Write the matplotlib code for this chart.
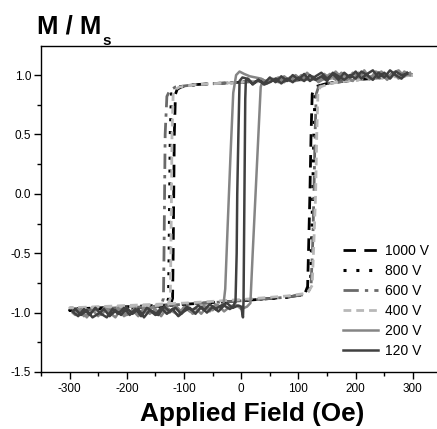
import matplotlib
matplotlib.use("Agg")
import matplotlib.pyplot as plt
from matplotlib.ticker import MultipleLocator

plt.rcParams['font.family'] = ['Liberation Sans', 'DejaVu Sans']
plt.rcParams['axes.unicode_minus'] = False

# ---------------- data ----------------
labels = ["1000 V", "800 V", "600 V", "400 V", "200 V", "120 V"]

# 1000 V
h1000_desc = [300, 200, 100, 0, -80, -105, -112, -115, -117, -118, -119, -120, -124, -150, -200, -300]
m1000_desc = [1.00, 0.98, 0.96, 0.94, 0.92, 0.90, 0.88, 0.84, 0.50, 0.00, -0.50, -0.88, -0.94, -0.95, -0.96, -0.97]
h1000_asc = [-300, -200, -100, 0, 80, 105, 112, 116, 118, 120, 122, 124, 128, 150, 200, 300]
m1000_asc = [-0.97, -0.95, -0.93, -0.90, -0.87, -0.85, -0.83, -0.78, -0.40, 0.00, 0.50, 0.84, 0.90, 0.93, 0.96, 1.00]

# 800 V
h800_desc = [300, 200, 100, 0, -80, -110, -118, -122, -124, -125, -126, -127, -131, -150, -200, -300]
m800_desc = [1.00, 0.98, 0.96, 0.94, 0.92, 0.90, 0.88, 0.84, 0.50, 0.00, -0.50, -0.88, -0.94, -0.96, -0.97, -0.98]
h800_asc = [-300, -200, -100, 0, 80, 108, 116, 121, 123, 125, 127, 129, 133, 150, 200, 300]
m800_asc = [-0.98, -0.96, -0.93, -0.90, -0.87, -0.85, -0.83, -0.78, -0.40, 0.00, 0.50, 0.84, 0.90, 0.93, 0.96, 1.00]

# 600 V
h600_desc = [300, 200, 100, 0, -80, -115, -125, -130, -133, -134, -135, -136, -140, -160, -200, -300]
m600_desc = [1.00, 0.98, 0.96, 0.94, 0.92, 0.90, 0.87, 0.82, 0.50, 0.00, -0.50, -0.88, -0.94, -0.96, -0.97, -0.98]
h600_asc = [-300, -200, -100, 0, 80, 108, 116, 122, 125, 127, 129, 131, 135, 150, 200, 300]
m600_asc = [-0.98, -0.96, -0.93, -0.90, -0.87, -0.85, -0.83, -0.78, -0.40, 0.00, 0.50, 0.84, 0.90, 0.93, 0.96, 1.00]

# 400 V
h400_desc = [300, 200, 100, 0, -80, -108, -115, -119, -121, -122, -123, -124, -128, -150, -200, -300]
m400_desc = [1.00, 0.98, 0.96, 0.94, 0.92, 0.90, 0.88, 0.84, 0.50, 0.00, -0.50, -0.88, -0.93, -0.94, -0.95, -0.96]
h400_asc = [-300, -200, -100, 0, 80, 110, 118, 124, 127, 130, 132, 134, 138, 155, 200, 300]
m400_asc = [-0.96, -0.94, -0.92, -0.89, -0.86, -0.84, -0.82, -0.77, -0.40, 0.00, 0.50, 0.84, 0.90, 0.93, 0.96, 1.00]

# 200 V
h200_desc = [295, 285, 275, 265, 255, 245, 235, 225, 215, 205, 195, 185, 175, 165, 155, 145, 135, 125,
             115, 105, 95, 85, 75, 65, 55, 45, 35, 25, 15, 5, -3, -9, -14, -19, -24, -28, -31,
             -35, -45, -55, -65, -75, -85, -95, -105, -115, -125, -135, -145, -155, -165, -175,
             -185, -195, -205, -215, -225, -235, -245, -255, -265, -275, -285, -295]
m200_desc = [1.00, 1.03, 0.97, 1.02, 0.96, 1.01, 1.03, 0.97, 0.99, 1.02, 0.95, 0.99, 1.02, 0.96, 1.01, 0.97,
             0.94, 0.99, 0.96, 1.00, 0.95, 0.98, 0.94, 0.98, 0.96, 0.94, 0.97, 0.98, 0.99, 1.01, 1.03, 1.00,
             0.85, 0.30, -0.30, -0.80, -0.93,
             -0.96, -0.93, -0.99, -0.94, -0.98, -1.01, -0.95, -0.99, -0.94, -1.00, -0.96, -1.02, -0.95,
             -0.99, -1.01, -0.96, -1.00, -1.03, -0.96, -1.01, -0.97, -1.02, -0.96, -1.01, -1.03, -0.97, -1.00]
h200_asc = [-290, -280, -270, -260, -250, -240, -230, -220, -210, -200, -190, -180, -170, -160, -150, -140,
            -130, -120, -110, -100, -90, -80, -70, -60, -50, -40, -30, -20, -10, 0, 10,
            16, 20, 25, 30, 34, 38,
            45, 55, 65, 75, 85, 95, 105, 115, 125, 135, 145, 155, 165, 175, 185, 195, 205, 215, 225,
            235, 245, 255, 265, 275, 285, 295]
m200_asc = [-1.02, -0.97, -1.04, -0.98, -1.03, -0.96, -1.00, -1.04, -0.97, -1.02, -0.98, -1.03, -0.96, -1.01,
            -0.97, -1.03, -0.96, -0.99, -1.02, -0.95, -0.99, -0.96, -1.01, -0.95, -0.98, -0.94, -0.99, -0.95,
            -0.93, -0.97, -0.95,
            -0.92, -0.50, 0.00, 0.50, 0.90, 0.96,
            0.93, 0.97, 0.94, 0.99, 0.95, 1.00, 0.96, 1.02, 0.97, 0.95, 1.01, 0.97, 1.03, 0.98, 0.96, 1.02,
            0.98, 1.04, 0.97, 1.00, 1.03, 0.98, 1.02, 1.04, 0.99, 1.02]

# 120 V
h120_desc = [290, 280, 270, 260, 250, 240, 230, 220, 210, 200, 190, 180, 170, 160, 150, 140, 130, 120,
             110, 100, 90, 80, 70, 60, 50, 40, 30, 20, 10,
             2, -3, -5, -7, -8, -10, -14,
             -20, -30, -40, -50, -60, -70, -80, -90, -100, -110, -120, -130, -140, -150, -160, -170,
             -180, -190, -200, -210, -220, -230, -240, -250, -260, -270, -280, -290]
m120_desc = [1.02, 0.97, 1.00, 1.04, 0.98, 1.02, 0.96, 1.00, 1.03, 0.97, 1.00, 0.96, 0.99, 1.02, 0.95, 0.99,
             0.96, 1.00, 0.95, 0.98, 0.94, 0.97, 0.93, 0.97, 0.94, 0.92, 0.96, 0.93, 0.97,
             0.98, 0.95, 0.50, 0.00, -0.50, -0.90, -0.95,
             -0.97, -0.94, -0.99, -0.95, -1.00, -0.95, -1.01, -0.96, -0.99, -1.03, -0.97, -1.01, -0.96,
             -1.02, -0.98, -1.04, -0.97, -1.01, -0.96, -1.02, -0.98, -1.03, -0.97, -1.01, -1.04, -0.98,
             -1.02, -0.97]
h120_asc = [-295, -285, -275, -265, -255, -245, -235, -225, -215, -205, -195, -185, -175, -165, -155, -145,
            -135, -125, -115, -105, -95, -85, -75, -65, -55, -45, -35, -25, -15, -5,
            0, 3, 4, 5, 6, 7, 8, 12,
            20, 30, 40, 50, 60, 70, 80, 90, 100, 110, 120, 130, 140, 150, 160, 170, 180, 190, 200, 210,
            220, 230, 240, 250, 260, 270, 280, 290]
m120_asc = [-0.99, -1.03, -0.97, -1.02, -0.96, -1.01, -1.04, -0.97, -1.01, -0.96, -1.02, -0.97, -1.03, -0.96,
            -0.99, -1.02, -0.95, -0.99, -0.96, -1.01, -0.95, -0.98, -0.94, -0.98, -0.93, -0.97, -0.94, -0.92,
            -0.96, -0.94,
            -0.95, -1.04, -0.90, -0.30, 0.30, 0.80, 0.95, 0.97,
            0.92, 0.96, 0.93, 0.98, 0.94, 0.99, 0.95, 1.00, 0.96, 1.01, 0.95, 0.99, 1.02, 0.97, 1.01, 0.96,
            1.02, 0.98, 1.03, 0.97, 1.01, 1.04, 0.98, 1.02, 0.97, 1.03, 1.00, 1.01]

x_ticks = [-300, -200, -100, 0, 100, 200, 300]
y_ticks = [-1.5, -1.0, -0.5, 0.0, 0.5, 1.0]

# ---------------- figure ----------------
W, H = 437, 429
fig = plt.figure(figsize=(W / 100, H / 100), dpi=100)
ax = fig.add_axes([41 / W, (H - 372) / H, (441.5 - 41) / W, (372 - 46) / H])

series = [
    (h1000_desc + h1000_asc, m1000_desc + m1000_asc, dict(color='black', lw=2.0, ls=(0, (4.5, 3)))),
    (h800_desc + h800_asc, m800_desc + m800_asc, dict(color='black', lw=2.2, ls=(0, (1, 3.2)))),
    (h600_desc + h600_asc, m600_desc + m600_asc, dict(color='#6a6a6a', lw=2.0, ls=(0, (5.5, 2.2, 1.2, 2.2)))),
    (h400_desc + h400_asc, m400_desc + m400_asc, dict(color='#b8b8b8', lw=2.0, ls=(0, (2.8, 1.8)))),
    (h200_desc + h200_asc, m200_desc + m200_asc, dict(color='#858585', lw=1.8, ls='-')),
    (h120_desc + h120_asc, m120_desc + m120_asc, dict(color='#404040', lw=1.8, ls='-')),
]
for (hx, my, st), lab in zip(series, labels):
    ax.plot(hx, my, label=lab, **st)

ax.set_xlim(-350, 350)
ax.set_ylim(-1.5, 1.245)
ax.set_xticks(x_ticks)
ax.set_yticks(y_ticks)
ax.set_yticklabels([f"{v:.1f}" for v in y_ticks])
ax.xaxis.set_minor_locator(MultipleLocator(50))
ax.yaxis.set_minor_locator(MultipleLocator(0.25))
ax.tick_params(which='major', direction='out', length=5, width=1, labelsize=8.5, pad=3, colors='black')
ax.tick_params(which='minor', direction='out', length=3, width=1)
ax.tick_params(axis='y', pad=2)
ax.spines['right'].set_visible(False)
for s in ['left', 'bottom', 'top']:
    ax.spines[s].set_linewidth(1.0)

fig.text(37 / W, 1 - 33 / H, "M / M", fontsize=18.5, fontweight='bold', va='baseline', ha='left')
fig.text(102 / W, 1 - 45 / H, "s", fontsize=11, fontweight='bold', va='baseline', ha='left')
fig.text(252 / W, 1 - 421 / H, "Applied Field (Oe)", fontsize=18.8, fontweight='bold',
         va='baseline', ha='center')

ax.legend(loc='upper left', bbox_to_anchor=(343 / W, 1 - 244 / H), bbox_transform=fig.transFigure,
          frameon=False, fontsize=10, handlelength=2.5, handletextpad=0.5, labelspacing=0.43,
          borderpad=0, borderaxespad=0)

fig.savefig("out.png", dpi=100)
